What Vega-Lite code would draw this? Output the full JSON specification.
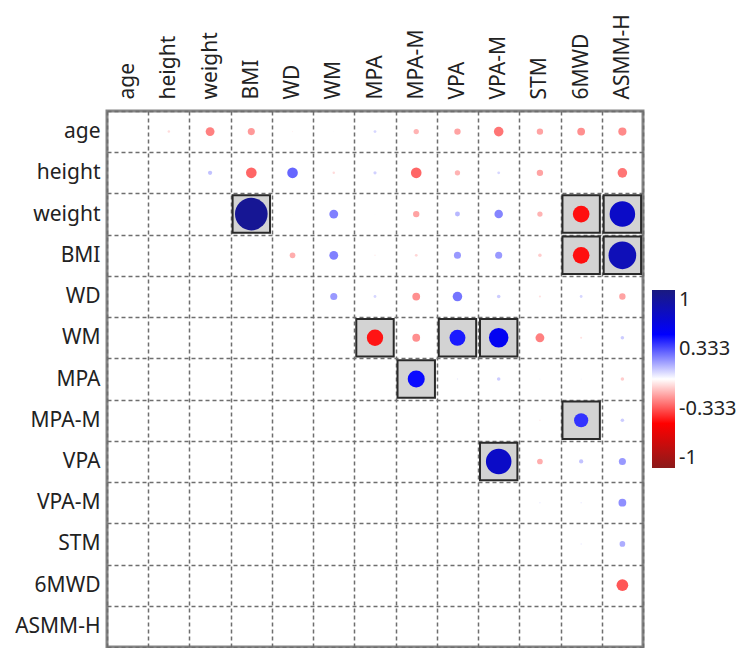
{
  "$schema": "https://vega.github.io/schema/vega-lite/v6.json",
  "autosize": "none",
  "width": 536,
  "height": 536,
  "padding": {"left": 107, "top": 111, "right": 97, "bottom": 1},
  "background": "white",
  "config": {
    "view": {"stroke": "#858585", "strokeWidth": 3},
    "font": "Noto Sans",
    "axis": {
      "domain": false,
      "ticks": false,
      "grid": true,
      "tickBand": "extent",
      "gridColor": "#6e6e6e",
      "gridWidth": 1.5,
      "gridDash": [4, 3],
      "labelFont": "Noto Sans",
      "labelFontSize": 21,
      "labelColor": "#222222",
      "title": null
    }
  },
  "data": {
    "values": [
      {"row": "age", "col": "height", "r": -0.07, "sig": 0},
      {"row": "age", "col": "weight", "r": -0.25, "sig": 0},
      {"row": "age", "col": "BMI", "r": -0.2, "sig": 0},
      {"row": "age", "col": "WD", "r": -0.03, "sig": 0},
      {"row": "age", "col": "WM", "r": 0.02, "sig": 0},
      {"row": "age", "col": "MPA", "r": 0.08, "sig": 0},
      {"row": "age", "col": "MPA-M", "r": -0.15, "sig": 0},
      {"row": "age", "col": "VPA", "r": -0.18, "sig": 0},
      {"row": "age", "col": "VPA-M", "r": -0.27, "sig": 0},
      {"row": "age", "col": "STM", "r": -0.18, "sig": 0},
      {"row": "age", "col": "6MWD", "r": -0.22, "sig": 0},
      {"row": "age", "col": "ASMM-H", "r": -0.23, "sig": 0},
      {"row": "height", "col": "weight", "r": 0.12, "sig": 0},
      {"row": "height", "col": "BMI", "r": -0.3, "sig": 0},
      {"row": "height", "col": "WD", "r": 0.3, "sig": 0},
      {"row": "height", "col": "WM", "r": -0.07, "sig": 0},
      {"row": "height", "col": "MPA", "r": 0.09, "sig": 0},
      {"row": "height", "col": "MPA-M", "r": -0.3, "sig": 0},
      {"row": "height", "col": "VPA", "r": -0.15, "sig": 0},
      {"row": "height", "col": "VPA-M", "r": 0.08, "sig": 0},
      {"row": "height", "col": "STM", "r": -0.18, "sig": 0},
      {"row": "height", "col": "6MWD", "r": -0.02, "sig": 0},
      {"row": "height", "col": "ASMM-H", "r": -0.27, "sig": 0},
      {"row": "weight", "col": "BMI", "r": 0.92, "sig": 1},
      {"row": "weight", "col": "WD", "r": 0.02, "sig": 0},
      {"row": "weight", "col": "WM", "r": 0.25, "sig": 0},
      {"row": "weight", "col": "MPA", "r": 0.02, "sig": 0},
      {"row": "weight", "col": "MPA-M", "r": -0.18, "sig": 0},
      {"row": "weight", "col": "VPA", "r": 0.14, "sig": 0},
      {"row": "weight", "col": "VPA-M", "r": 0.24, "sig": 0},
      {"row": "weight", "col": "STM", "r": -0.15, "sig": 0},
      {"row": "weight", "col": "6MWD", "r": -0.47, "sig": 1},
      {"row": "weight", "col": "ASMM-H", "r": 0.72, "sig": 1},
      {"row": "BMI", "col": "WD", "r": -0.16, "sig": 0},
      {"row": "BMI", "col": "WM", "r": 0.25, "sig": 0},
      {"row": "BMI", "col": "MPA", "r": -0.04, "sig": 0},
      {"row": "BMI", "col": "MPA-M", "r": -0.08, "sig": 0},
      {"row": "BMI", "col": "VPA", "r": 0.2, "sig": 0},
      {"row": "BMI", "col": "VPA-M", "r": 0.2, "sig": 0},
      {"row": "BMI", "col": "STM", "r": -0.1, "sig": 0},
      {"row": "BMI", "col": "6MWD", "r": -0.47, "sig": 1},
      {"row": "BMI", "col": "ASMM-H", "r": 0.78, "sig": 1},
      {"row": "WD", "col": "WM", "r": 0.2, "sig": 0},
      {"row": "WD", "col": "MPA", "r": 0.08, "sig": 0},
      {"row": "WD", "col": "MPA-M", "r": -0.22, "sig": 0},
      {"row": "WD", "col": "VPA", "r": 0.27, "sig": 0},
      {"row": "WD", "col": "VPA-M", "r": 0.1, "sig": 0},
      {"row": "WD", "col": "STM", "r": -0.06, "sig": 0},
      {"row": "WD", "col": "6MWD", "r": 0.08, "sig": 0},
      {"row": "WD", "col": "ASMM-H", "r": -0.18, "sig": 0},
      {"row": "WM", "col": "MPA", "r": -0.46, "sig": 1},
      {"row": "WM", "col": "MPA-M", "r": -0.22, "sig": 0},
      {"row": "WM", "col": "VPA", "r": 0.45, "sig": 1},
      {"row": "WM", "col": "VPA-M", "r": 0.55, "sig": 1},
      {"row": "WM", "col": "STM", "r": -0.25, "sig": 0},
      {"row": "WM", "col": "6MWD", "r": -0.06, "sig": 0},
      {"row": "WM", "col": "ASMM-H", "r": 0.1, "sig": 0},
      {"row": "MPA", "col": "MPA-M", "r": 0.48, "sig": 1},
      {"row": "MPA", "col": "VPA", "r": 0.04, "sig": 0},
      {"row": "MPA", "col": "VPA-M", "r": 0.1, "sig": 0},
      {"row": "MPA", "col": "STM", "r": 0.03, "sig": 0},
      {"row": "MPA", "col": "6MWD", "r": 0.03, "sig": 0},
      {"row": "MPA", "col": "ASMM-H", "r": -0.1, "sig": 0},
      {"row": "MPA-M", "col": "VPA", "r": 0.01, "sig": 0},
      {"row": "MPA-M", "col": "VPA-M", "r": 0.01, "sig": 0},
      {"row": "MPA-M", "col": "STM", "r": -0.04, "sig": 0},
      {"row": "MPA-M", "col": "6MWD", "r": 0.4, "sig": 1},
      {"row": "MPA-M", "col": "ASMM-H", "r": 0.1, "sig": 0},
      {"row": "VPA", "col": "VPA-M", "r": 0.72, "sig": 1},
      {"row": "VPA", "col": "STM", "r": -0.16, "sig": 0},
      {"row": "VPA", "col": "6MWD", "r": 0.12, "sig": 0},
      {"row": "VPA", "col": "ASMM-H", "r": 0.2, "sig": 0},
      {"row": "VPA-M", "col": "STM", "r": 0.04, "sig": 0},
      {"row": "VPA-M", "col": "6MWD", "r": 0.04, "sig": 0},
      {"row": "VPA-M", "col": "ASMM-H", "r": 0.22, "sig": 0},
      {"row": "STM", "col": "6MWD", "r": 0.04, "sig": 0},
      {"row": "STM", "col": "ASMM-H", "r": 0.16, "sig": 0},
      {"row": "6MWD", "col": "ASMM-H", "r": -0.33, "sig": 0}
    ]
  },
  "transform": [{"calculate": "abs(datum.r)", "as": "absr"}],
  "encoding": {
    "x": {
      "field": "col",
      "type": "nominal",
      "scale": {"type": "band", "paddingInner": 0, "paddingOuter": 0,
        "domain": ["age","height","weight","BMI","WD","WM","MPA","MPA-M","VPA","VPA-M","STM","6MWD","ASMM-H"]},
      "axis": {"orient": "top", "labelAngle": 270, "labelAlign": "left", "labelBaseline": "middle", "labelPadding": 12}
    },
    "y": {
      "field": "row",
      "type": "nominal",
      "scale": {"type": "band", "paddingInner": 0, "paddingOuter": 0,
        "domain": ["age","height","weight","BMI","WD","WM","MPA","MPA-M","VPA","VPA-M","STM","6MWD","ASMM-H"]},
      "axis": {"orient": "left", "labelPadding": 7}
    }
  },
  "layer": [
    {
      "transform": [{"filter": "datum.sig == 1"}],
      "mark": {"type": "square", "filled": true, "fill": "#d3d3d3", "stroke": "#2a2a2a", "strokeWidth": 2, "opacity": 1, "size": 1400},
      "encoding": {}
    },
    {
      "mark": {"type": "circle", "opacity": 1},
      "encoding": {
        "size": {"field": "absr", "type": "quantitative", "legend": null,
          "scale": {"type": "pow", "exponent": 2, "domain": [0, 1], "range": [0, 1257], "zero": true}},
        "color": {"field": "r", "type": "quantitative",
          "scale": {"type": "linear", "interpolate": "rgb", "domain": [-1, -0.5, 0, 0.5, 1], "range": ["#8b1a1a", "#ff0000", "#ffffff", "#0000ff", "#1a1a80"]},
          "legend": {
            "orient": "none", "legendX": 545, "legendY": 179,
            "direction": "vertical", "title": null,
            "gradientLength": 178, "gradientThickness": 23, "gradientStrokeWidth": 0,
            "values": [1, 0.333, -0.333, -1],
            "labelExpr": "replace(format(datum.value, '.3~f'), '\u2212', '-')",
            "labelFont": "Noto Sans", "labelFontSize": 20, "labelColor": "#222222",
            "labelOverlap": false, "labelOffset": 4
          }
        }
      }
    }
  ]
}
